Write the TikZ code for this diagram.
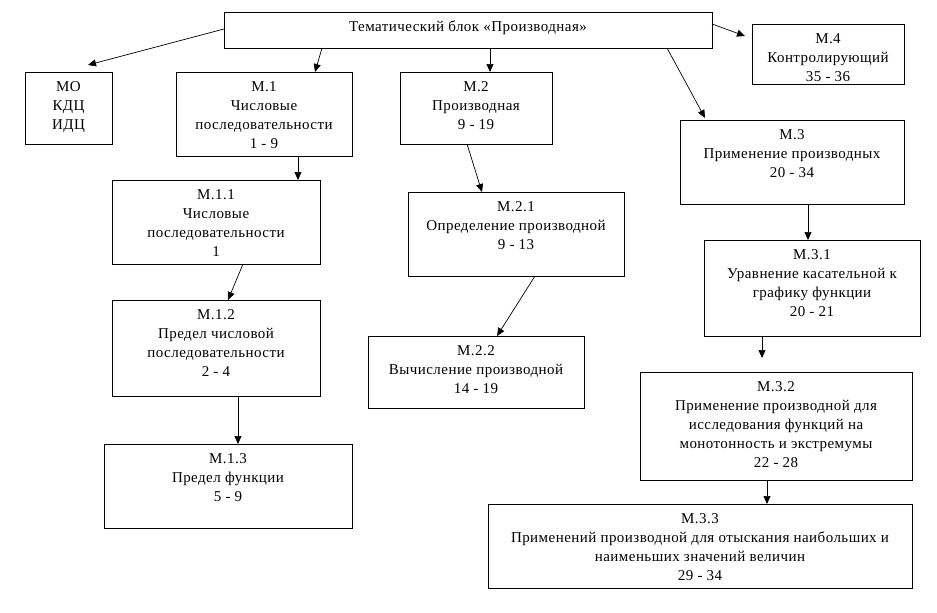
\documentclass[tikz,border=0pt]{standalone}
\usepackage{fontspec}
\setmainfont{Liberation Serif}[LetterSpace=3]
\usetikzlibrary{arrows.meta}
\newcommand{\bt}[3]{\parbox[c][#2pt][t]{#1pt}{\fontsize{15}{19}\selectfont\centering\vspace*{6.6pt}\strut #3}}
\begin{document}
\begin{tikzpicture}[x=1pt,y=-1pt,
  box/.style={draw, line width=1pt, inner sep=0pt, outer sep=0pt, anchor=north west},
  arr/.style={line width=0.7pt, -{Triangle[length=8pt,width=7pt]}}]
\useasboundingbox (0,0) rectangle (937,613);
\node[box] (top) at (224,12) {\bt{488}{36}{Тематический блок «Производная»}};
\node[box] (mo)  at (25,72)  {\bt{87}{72}{МО\\КДЦ\\ИДЦ}};
\node[box] (m1)  at (176,72) {\bt{176}{84}{М.1\\Числовые\\последовательности\\1 - 9}};
\node[box] (m2)  at (400,72) {\bt{152}{72}{М.2\\Производная\\9 - 19}};
\node[box] (m4)  at (752,24) {\bt{152}{60}{М.4\\Контролирующий\\35 - 36}};
\node[box] (m3)  at (680,120) {\bt{224}{84}{М.3\\Применение производных\\20 - 34}};
\node[box] (m11) at (112,180) {\bt{208}{84}{М.1.1\\Числовые\\последовательности\\1}};
\node[box] (m21) at (408,192) {\bt{216}{84}{М.2.1\\Определение производной\\9 - 13}};
\node[box] (m31) at (704,240) {\bt{216}{96}{М.3.1\\Уравнение касательной к\\графику функции\\20 - 21}};
\node[box] (m12) at (112,300) {\bt{208}{96}{М.1.2\\Предел числовой\\последовательности\\2 - 4}};
\node[box] (m22) at (368,336) {\bt{216}{72}{М.2.2\\Вычисление производной\\14 - 19}};
\node[box] (m32) at (640,372) {\bt{272}{108}{М.3.2\\Применение производной для\\исследования функций на\\монотонность и экстремумы\\22 - 28}};
\node[box] (m13) at (104,444) {\bt{248}{84}{М.1.3\\Предел функции\\5 - 9}};
\node[box] (m33) at (488,504) {\bt{424}{84}{М.3.3\\Применений производной для отыскания наибольших и\\наименьших значений величин\\29 - 34}};
\coordinate (g32) at (762,358);
\draw[arr] ([yshift=1pt]top.west) -- ([shift={(19.5pt,7pt)}]mo.north);
\draw[arr] ([xshift=98pt]top.south west) -- ([xshift=139pt]m1.north west);
\draw[arr] ([xshift=266pt]top.south west) -- ([xshift=90pt]m2.north west);
\draw[arr] ([yshift=-12pt]top.north east) -- ([shift={(-7pt,-12pt)}]m4.north west);
\draw[arr] ([xshift=443pt]top.south west) -- ([shift={(25pt,2pt)}]m3.north west);
\draw[arr] ([xshift=122pt]m1.south west) -- ([xshift=186pt]m11.north west);
\draw[arr] ([xshift=131pt]m11.south west) -- ([xshift=116pt]m12.north west);
\draw[arr] ([xshift=67pt]m2.south west) -- ([xshift=74pt]m21.north west);
\draw[arr] ([xshift=127pt]m21.south west) -- ([xshift=129pt]m22.north west);
\draw[arr] ([xshift=128pt]m3.south west) -- ([xshift=104pt]m31.north west);
\draw[arr] ([xshift=58pt]m31.south west) -- (g32);
\draw[arr] ([xshift=127pt]m32.south west) -- ([xshift=279pt]m33.north west);
\draw[arr] ([xshift=126pt]m12.south west) -- ([xshift=134pt]m13.north west);
\end{tikzpicture}
\end{document}
